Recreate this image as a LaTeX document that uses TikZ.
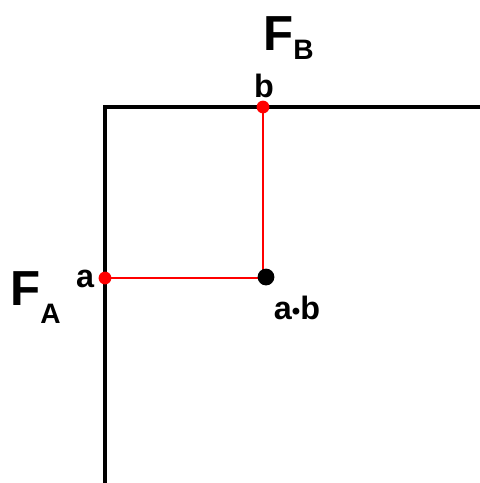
\documentclass[tikz,border=0pt]{standalone}
\usepackage{fontspec}
\setmainfont{Liberation Sans}
\usetikzlibrary{positioning}

\begin{document}
\begin{tikzpicture}[x=0.025cm, y=-0.025cm,
  reddot/.style={circle, fill=red, inner sep=0pt, minimum size=0.32cm},
  blackdot/.style={circle, fill=black, inner sep=0pt, minimum size=0.42cm},
  redline/.style={red, line width=1.3pt},
  frame/.style={black, line width=2.9pt, line join=miter},
  lbl/.style={font=\fontsize{23}{23}\selectfont\bfseries, anchor=base, inner sep=0pt},
  flbl/.style={font=\fontsize{35}{35}\selectfont\bfseries, anchor=base west, inner sep=0pt}
]
  \useasboundingbox (0,0) rectangle (480,483);
  % frame
  \coordinate (corner) at (105,107);
  \coordinate (bottom) at (105,483);
  \coordinate (right)  at (480,107);
  \draw[frame] (bottom) -- (corner) -- (right);
  % points
  \coordinate (pa) at (105,278);
  \coordinate (pb) at (263,107);
  \coordinate (pab) at (263,278);
  \draw[redline] (pa) -- (pab) -- (pb);
  \node[reddot] (a) at (pa) {};
  \node[reddot] (b) at (pb) {};
  \node[blackdot] (ab) at (266,277) {};
  % labels
  \node[lbl] (la) at (85,287) {a};
  \node[lbl] (lb) at (264,97) {b};
  \node[lbl] (lab) at (297,319) {a{\fontsize{17}{17}\selectfont •}b};
  \node[flbl] (fb) at (263,50) {F\raisebox{-0.2em}{\fontsize{20}{20}\selectfont B}};
  \node[flbl] (fa) at (10,305) {F\raisebox{-0.37em}{\fontsize{20}{20}\selectfont A}};
\end{tikzpicture}
\end{document}
